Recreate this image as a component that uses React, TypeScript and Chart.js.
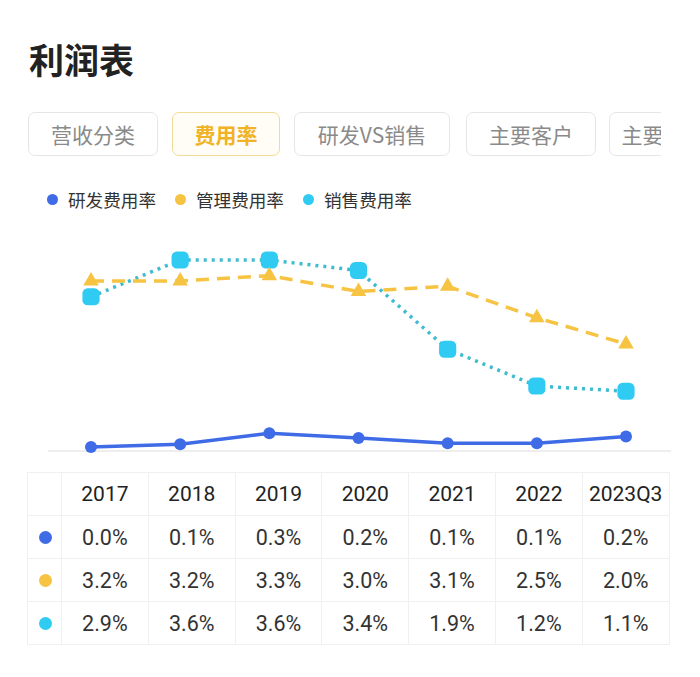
import React, { useEffect, useRef } from "react";
import { Chart, registerables } from "chart.js";

Chart.register(...registerables);

const categories = ["2017", "2018", "2019", "2020", "2021", "2022", "2023Q3"];
const rdRate = [0.04, 0.09, 0.3, 0.21, 0.11, 0.11, 0.24];
const adminRate = [3.2, 3.2, 3.3, 3.0, 3.1, 2.5, 2.0];
const salesRate = [2.9, 3.6, 3.6, 3.4, 1.9, 1.2, 1.1];
const seriesNames = ["研发费用率", "管理费用率", "销售费用率"];
const tabs = ["营收分类", "费用率", "研发VS销售", "主要客户", "主要供应商"];

const BLUE = "#3f6be6";
const YELLOW = "#f6c343";
const CYAN = "#2fcbf3";
const CYAN_LINE = "#3dbccf";
const seriesColors = [BLUE, YELLOW, CYAN];

const FONT = 'Roboto, "Noto Sans CJK SC", "Noto Sans", sans-serif';
const CJK = '"Noto Sans CJK SC", sans-serif';

const baselinePlugin = {
  id: "baseline",
  beforeDatasetsDraw(chart: any) {
    const { ctx, chartArea, width } = chart;
    ctx.save();
    ctx.strokeStyle = "#eeeeee";
    ctx.lineWidth = 2;
    ctx.beginPath();
    ctx.moveTo(0, chartArea.bottom + 2);
    ctx.lineTo(width, chartArea.bottom + 2);
    ctx.stroke();
    ctx.restore();
  },
};

function LineChart() {
  const ref = useRef<HTMLCanvasElement | null>(null);
  useEffect(() => {
    if (!ref.current) return;
    const chart = new Chart(ref.current, {
      type: "line",
      data: {
        labels: categories,
        datasets: [
          {
            label: seriesNames[0],
            data: rdRate,
            borderColor: BLUE,
            backgroundColor: BLUE,
            borderWidth: 3.5,
            pointStyle: "circle",
            pointRadius: 6,
            pointBorderWidth: 0,
            clip: false,
          },
          {
            label: seriesNames[1],
            data: adminRate,
            borderColor: YELLOW,
            backgroundColor: YELLOW,
            borderWidth: 3.5,
            borderDash: [13, 8],
            pointStyle: "triangle",
            pointRadius: 9,
            pointBorderWidth: 0,
            clip: false,
          },
          {
            label: seriesNames[2],
            data: salesRate,
            borderColor: CYAN_LINE,
            backgroundColor: CYAN,
            borderWidth: 3.5,
            borderDash: [3, 5],
            pointStyle: "rectRounded",
            pointRadius: 10,
            pointBorderWidth: 0,
            clip: false,
          },
        ],
      },
      options: {
        animation: false,
        responsive: false,
        maintainAspectRatio: false,
        layout: { padding: { left: 43, right: 45, top: 14, bottom: 11 } },
        plugins: { legend: { display: false }, tooltip: { enabled: false } },
        scales: {
          x: { display: false, offset: false },
          y: { display: false, min: 0, max: 4 },
        },
      },
      plugins: [baselinePlugin],
    });
    return () => chart.destroy();
  }, []);
  return (
    <canvas
      ref={ref}
      width={623}
      height={235}
      style={{ position: "absolute", left: 48, top: 225, width: 623, height: 235 }}
    />
  );
}

export default function App() {
  const rows = [rdRate, adminRate, salesRate];
  const colW = 86.8;
  const firstW = 34;
  const rowH = 43;
  const cellBorder = "1px solid #f0f0f0";
  return (
    <div
      style={{
        position: "absolute",
        left: 0,
        top: 0,
        width: 700,
        height: 677,
        background: "#fff",
        overflow: "hidden",
        fontFamily: FONT,
        color: "#222",
      }}
    >
      <div
        style={{
          position: "absolute",
          left: 29,
          top: 34,
          fontSize: 35,
          fontWeight: 700,
          lineHeight: "50px",
          color: "#222",
          fontFamily: CJK,
        }}
      >
        利润表
      </div>
      <div style={{ position: "absolute", left: 0, top: 110, width: 661, height: 50, overflow: "hidden" }}>
        {tabs.map((t, i) => {
          const lefts = [28, 172, 294, 466, 609];
          const widths = [130, 108, 156, 130, 130];
          const active = i === 1;
          return (
            <div
              key={t}
              style={{
                position: "absolute",
                left: lefts[i],
                top: 2,
                width: widths[i],
                height: 44,
                boxSizing: "border-box",
                border: `1.5px solid ${active ? "#f1dc95" : "#e6e6e6"}`,
                borderRadius: 7,
                display: "flex",
                alignItems: "center",
                justifyContent: "center",
                fontSize: 21,
                color: active ? "#f0b325" : "#8a8a8a",
                fontWeight: active ? 700 : 400,
                whiteSpace: "nowrap",
                background: active ? "#fffdf5" : "#fff",
                fontFamily: CJK,
              }}
            >
              {t}
            </div>
          );
        })}
      </div>
      <div
        style={{
          position: "absolute",
          left: 47,
          top: 187,
          display: "flex",
          alignItems: "center",
          fontSize: 17.6,
          color: "#333",
          fontFamily: CJK,
        }}
      >
        {seriesNames.map((n, i) => (
          <div key={n} style={{ display: "flex", alignItems: "center", marginRight: 19 }}>
            <span
              style={{
                display: "inline-block",
                width: 11,
                height: 11,
                borderRadius: "50%",
                background: seriesColors[i],
                marginRight: 10,
              }}
            />
            <span>{n}</span>
          </div>
        ))}
      </div>
      <LineChart />
      <div
        style={{
          position: "absolute",
          left: 27,
          top: 472,
          width: firstW + colW * 7,
          borderTop: cellBorder,
          borderLeft: cellBorder,
        }}
      >
        <div style={{ display: "flex", height: rowH }}>
          <div style={{ width: firstW, boxSizing: "border-box", borderRight: cellBorder, borderBottom: cellBorder }} />
          {categories.map((c) => (
            <div
              key={c}
              style={{
                width: colW,
                boxSizing: "border-box",
                borderRight: cellBorder,
                borderBottom: cellBorder,
                display: "flex",
                alignItems: "center",
                justifyContent: "center",
                fontSize: 21,
                color: "#222",
              }}
            >
              {c}
            </div>
          ))}
        </div>
        {rows.map((r, ri) => (
          <div key={ri} style={{ display: "flex", height: rowH }}>
            <div
              style={{
                width: firstW,
                boxSizing: "border-box",
                borderRight: cellBorder,
                borderBottom: cellBorder,
                display: "flex",
                alignItems: "center",
                justifyContent: "center",
              }}
            >
              <span style={{ width: 13, height: 13, borderRadius: "50%", background: seriesColors[ri], display: "inline-block", marginLeft: 2 }} />
            </div>
            {r.map((v, ci) => (
              <div
                key={ci}
                style={{
                  width: colW,
                  boxSizing: "border-box",
                  borderRight: cellBorder,
                  borderBottom: cellBorder,
                  display: "flex",
                  alignItems: "center",
                  justifyContent: "center",
                  fontSize: 21.5,
                  color: "#333",
                }}
              >
                {v.toFixed(1) + "%"}
              </div>
            ))}
          </div>
        ))}
      </div>
    </div>
  );
}
